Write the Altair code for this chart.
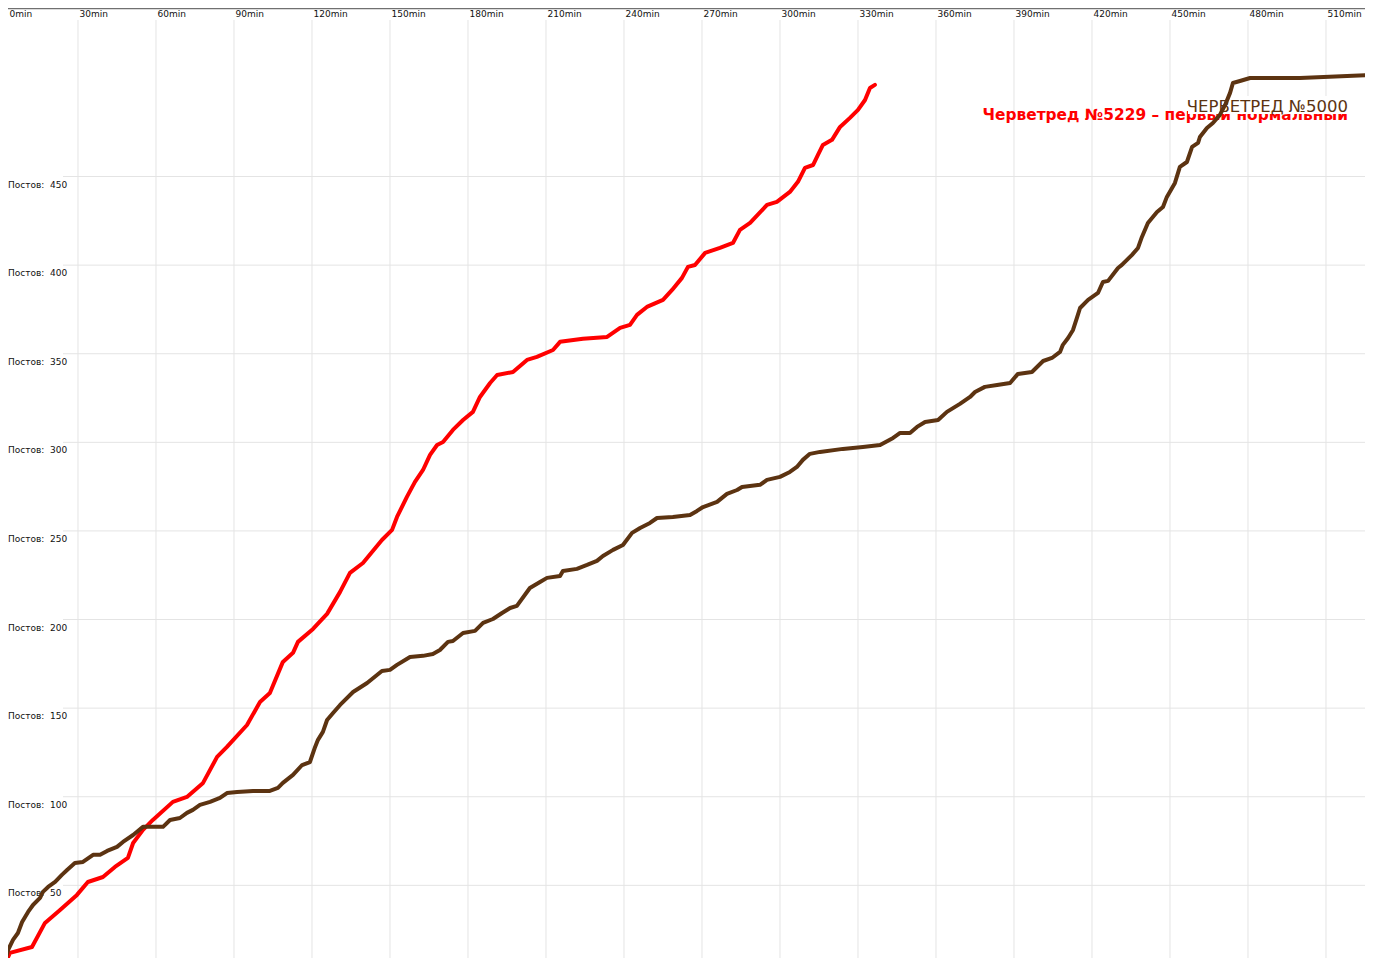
import altair as alt
import pandas as pd

# ---------------- data ----------------
series_names = ["Черветред №5229 – первый нормальный", "ЧЕРВЕТРЕД №5000"]
series_colors = ["#ff0000", "#5c3311"]

red_minutes = [0, 1.2, 3.8, 12.3, 17.3, 23.1, 29.6, 33.8, 39.6, 44.2, 49.2, 51.2, 55.0, 58.8,
               66.5, 71.9, 78.1, 83.5, 87.3, 95.0, 100.0, 103.8, 108.8, 112.7, 114.6, 120.4,
               125.8, 130.8, 134.6, 139.6, 146.9, 150.8, 152.7, 156.5, 159.6, 162.7, 165.4,
               168.1, 170.4, 174.2, 178.1, 181.9, 184.6, 188.5, 191.2, 197.3, 202.7, 206.5,
               212.7, 215.4, 224.2, 233.5, 238.5, 242.3, 245.0, 248.8, 255.0, 258.5, 262.3,
               264.6, 267.3, 271.2, 276.9, 281.9, 284.6, 288.5, 295.0, 298.8, 303.8, 306.9,
               309.6, 312.7, 314.6, 316.5, 320.0, 323.1, 326.9, 330.0, 332.7, 334.6, 336.5]
red_posts = [0, 2.8, 11.9, 15.2, 28.8, 36.1, 44.6, 51.9, 54.7, 60.4, 65.5, 73.9, 81.3, 86.9,
             97.1, 99.9, 107.8, 122.5, 128.1, 140.5, 153.5, 158.6, 176.1, 181.2, 187.4, 194.7,
             203.2, 215.6, 226.3, 231.9, 244.9, 250.6, 257.9, 269.2, 277.7, 284.4, 292.9,
             298.5, 300.2, 307.0, 312.6, 317.2, 325.6, 333.5, 338.0, 339.7, 346.5, 348.2,
             352.1, 356.7, 358.4, 359.5, 364.6, 366.3, 371.9, 376.4, 380.4, 386.0, 392.8,
             399.0, 400.1, 406.9, 409.7, 412.5, 419.9, 423.8, 434.0, 435.7, 441.3, 447.0,
             454.9, 456.5, 462.2, 467.8, 470.7, 478.0, 483.1, 487.6, 493.2, 500.0, 501.7]

brown_minutes = [0, 1.9, 3.1, 5.0, 6.9, 8.5, 10.8, 12.7, 15.4, 16.5, 18.5, 21.2, 23.8, 25.8,
                 28.8, 31.9, 35.8, 38.5, 41.2, 45.0, 47.3, 51.2, 55.0, 62.7, 65.4, 69.2, 71.9,
                 74.2, 76.9, 80.8, 84.6, 87.3, 91.2, 97.3, 103.8, 106.9, 108.8, 112.7, 116.2,
                 119.2, 121.2, 122.3, 124.2, 125.8, 128.1, 130.8, 135.8, 141.2, 146.9, 150.0,
                 152.7, 157.7, 162.7, 166.5, 169.2, 172.3, 174.2, 178.1, 182.7, 185.8, 189.6,
                 193.1, 196.2, 198.8, 203.8, 207.7, 210.4, 215.4, 216.5, 221.9, 225.8, 229.6,
                 231.9, 235.8, 239.6, 243.1, 246.2, 250.0, 252.7, 258.8, 265.4, 268.1, 270.4,
                 275.8, 279.6, 283.5, 285.4, 292.3, 295.0, 300.0, 303.8, 306.5, 308.8, 311.5,
                 315.4, 324.2, 331.9, 338.5, 343.5, 346.2, 350.0, 352.7, 355.8, 360.8, 364.2,
                 369.2, 373.1, 375.0, 378.8, 383.5, 388.5, 391.5, 396.9, 401.2, 404.6, 407.7,
                 408.8, 410.8, 412.7, 414.2, 415.4, 418.5, 422.3, 424.2, 426.2, 430.0, 431.5,
                 435.4, 437.7, 439.2, 441.5, 445.0, 447.3, 448.8, 451.9, 453.8, 456.5, 458.5,
                 460.8, 461.5, 464.2, 466.5, 469.2, 471.2, 473.1, 474.2, 476.9, 480.8, 500.0,
                 520.4, 528.0]
brown_posts = [0, 6.8, 13.5, 19.2, 23.1, 29.3, 35.0, 38.9, 42.9, 46.3, 49.1, 51.9, 55.9, 58.7,
               62.6, 63.2, 67.2, 67.2, 69.4, 71.7, 74.5, 78.4, 83.0, 83.0, 86.9, 88.0, 90.9,
               92.6, 95.4, 97.1, 99.3, 102.1, 102.7, 103.3, 103.3, 105.0, 107.8, 112.3, 117.9,
               119.6, 128.1, 132.1, 136.6, 143.3, 147.3, 151.8, 159.1, 164.2, 171.0, 171.6,
               174.4, 178.9, 179.5, 180.6, 182.8, 187.4, 187.9, 192.4, 193.6, 198.1, 200.3,
               203.7, 206.5, 207.7, 217.8, 221.2, 223.5, 224.6, 227.4, 228.6, 230.8, 233.1,
               235.9, 239.3, 242.1, 248.9, 251.7, 254.5, 257.3, 257.9, 259.0, 261.3, 263.5,
               266.4, 270.9, 273.1, 274.8, 276.0, 278.8, 280.5, 283.3, 286.1, 290.1, 293.5,
               294.6, 296.3, 297.4, 298.5, 302.5, 305.3, 305.3, 308.7, 311.5, 312.6, 317.2,
               321.7, 325.6, 328.4, 331.3, 332.4, 333.5, 338.6, 339.7, 345.9, 347.6, 351.0,
               355.0, 358.9, 363.4, 370.2, 375.8, 380.4, 384.3, 390.5, 391.1, 398.4, 400.1,
               405.8, 409.7, 415.9, 423.8, 430.0, 432.8, 438.5, 446.4, 455.4, 458.2, 466.7,
               469.0, 472.3, 477.4, 480.2, 484.8, 490.4, 497.2, 502.8, 503.9, 505.6, 505.6,
               506.8, 507.3]

x_ticks = [0, 30, 60, 90, 120, 150, 180, 210, 240, 270, 300, 330, 360, 390, 420, 450, 480, 510]
x_tick_labels = ["0min", "30min", "60min", "90min", "120min", "150min", "180min", "210min",
                 "240min", "270min", "300min", "330min", "360min", "390min", "420min",
                 "450min", "480min", "510min"]
y_ticks = [50, 100, 150, 200, 250, 300, 350, 400, 450]
y_tick_labels = ["Постов:\u00a0\u00a0" + str(v) for v in y_ticks]

# ---------------- layout ----------------
W, H = 1357, 950
X_DOMAIN = [3.08, 525.0]
Y_DOMAIN = [9.0, 545.1]
FONT = "DejaVu Sans"
GRID = "#e4e4e4"

xs = alt.Scale(domain=X_DOMAIN, nice=False, zero=False)
xs_clamp = alt.Scale(domain=X_DOMAIN, nice=False, zero=False, clamp=True)
ys = alt.Scale(domain=Y_DOMAIN, nice=False, zero=False)

red_df = pd.DataFrame({"m": red_minutes, "p": red_posts})
brown_df = pd.DataFrame({"m": brown_minutes, "p": brown_posts})
xt_df = pd.DataFrame({"t": x_ticks, "label": x_tick_labels})
yt_df = pd.DataFrame({"p": y_ticks, "label": y_tick_labels})
one = pd.DataFrame({"k": [0]})

vgrid = alt.Chart(xt_df).mark_rule(color=GRID, strokeWidth=1).encode(
    x=alt.X("t:Q", scale=xs, axis=None), y=alt.value(12), y2=alt.value(H))
hgrid = alt.Chart(yt_df).mark_rule(color=GRID, strokeWidth=1).encode(
    y=alt.Y("p:Q", scale=ys, axis=None), x=alt.value(55), x2=alt.value(W))
ylabels = alt.Chart(yt_df).mark_text(
    align="left", baseline="middle", dy=8, fontSize=9, font=FONT, color="#111111"
).encode(x=alt.value(0), y=alt.Y("p:Q", scale=ys, axis=None), text="label:N")
xlabels = alt.Chart(xt_df).mark_text(
    align="left", baseline="top", dx=1.5, fontSize=9, font=FONT, color="#111111"
).encode(x=alt.X("t:Q", scale=xs_clamp, axis=None), y=alt.value(1.5), text="label:N")
border = alt.Chart(one).mark_rule(color="#707070", strokeWidth=1.5).encode(
    x=alt.value(0), x2=alt.value(W), y=alt.value(0.5))

red_line = alt.Chart(red_df).mark_line(
    color=series_colors[0], strokeWidth=4, clip=True, strokeJoin="round", strokeCap="round"
).encode(x=alt.X("m:Q", scale=xs, axis=None), y=alt.Y("p:Q", scale=ys, axis=None))
brown_line = alt.Chart(brown_df).mark_line(
    color=series_colors[1], strokeWidth=4, clip=True, strokeJoin="round", strokeCap="round"
).encode(x=alt.X("m:Q", scale=xs, axis=None), y=alt.Y("p:Q", scale=ys, axis=None))

leg_df = pd.DataFrame({"name": series_names})
red_text = alt.Chart(leg_df.iloc[[0]]).mark_text(
    align="right", baseline="alphabetic", font=FONT, fontWeight="bold", fontSize=15.4,
    color=series_colors[0]
).encode(x=alt.value(1340), y=alt.value(112), text="name:N")
white_box = alt.Chart(one).mark_rect(color="white").encode(
    x=alt.value(1180), x2=alt.value(1342), y=alt.value(88), y2=alt.value(106))
brown_text = alt.Chart(leg_df.iloc[[1]]).mark_text(
    align="right", baseline="alphabetic", font=FONT, fontSize=16.5,
    color=series_colors[1]
).encode(x=alt.value(1340), y=alt.value(104), text="name:N")

chart = alt.layer(
    vgrid, hgrid, ylabels, xlabels, border, red_line, red_text, white_box, brown_text, brown_line
).resolve_scale(x="independent").properties(
    width=W, height=H, autosize=alt.AutoSizeParams(type="none"), padding=0,
    background="white"
).configure_view(strokeWidth=0)

chart.save("out.html", embed_options={"renderer": "svg", "actions": False})
